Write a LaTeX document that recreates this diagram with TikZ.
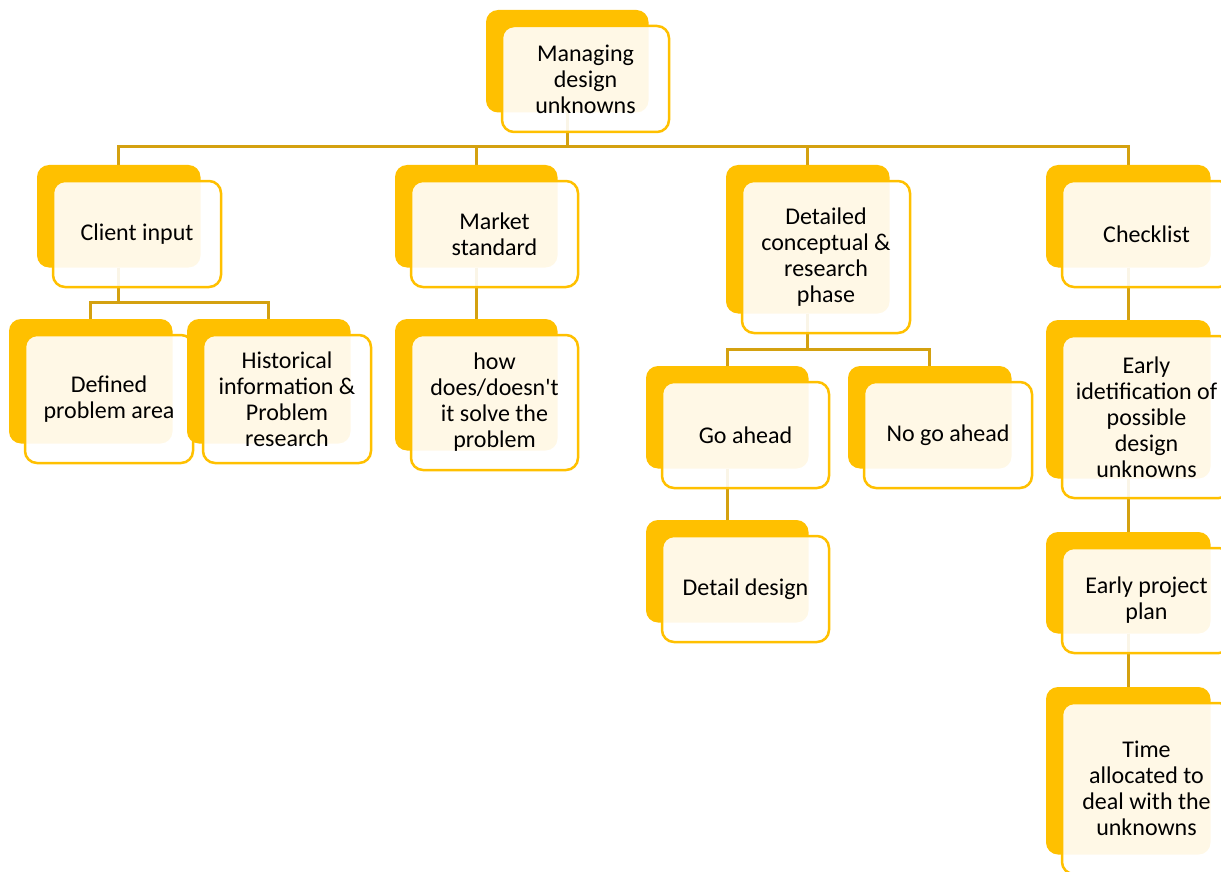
\documentclass[tikz,border=0pt]{standalone}
\usepackage{fontspec}
\newfontfamily\boxfont{Carlito}
\usetikzlibrary{backgrounds}
\definecolor{gold}{RGB}{255,192,0}
\definecolor{linkgold}{RGB}{212,161,16}
\tikzset{
  backbox/.style={fill=gold, rounded corners=12pt, inner sep=0pt, outer sep=0pt},
  frontbox/.style={draw=gold, line width=2.5pt, fill=white, fill opacity=0.9,
    text opacity=1, rounded corners=12pt, inner sep=0pt, outer sep=0pt,
    align=center, font=\boxfont\fontsize{24}{26}\selectfont},
  link/.style={draw=linkgold, line width=3pt},
}
% #1 name, #2-#5 front box corners (left, top, right, bottom), #6 label.
% The solid back plate sits up and to the left of the outlined front card.
\newcommand\stackbox[6]{%
  \node[backbox, minimum width={#4-#2-4.5}, minimum height={#5-#3-3.5}]
    (#1b) at ({(#2+#4)/2-18.25},{(#3+#5)/2-17.75}) {};
  \node[frontbox, minimum width={#4-#2}, minimum height={#5-#3}]
    (#1) at ({(#2+#4)/2},{(#3+#5)/2}) {#6};
}
\begin{document}
\begin{tikzpicture}[x=1pt,y=-1pt]
\useasboundingbox (0,0) rectangle (1221,872);
\clip (0,0) rectangle (1221,872);

\stackbox{mg}{502}{26}{669}{132}{Managing\\design\\unknowns}
\stackbox{ci}{53}{181}{221}{287}{Client input}
\stackbox{mk}{411}{181}{578}{287}{Market\\standard}
\stackbox{dc}{742}{181}{910}{333}{Detailed\\conceptual \&\\research\\phase}
\stackbox{ck}{1062}{181}{1231}{287}{Checklist}
\stackbox{de}{25}{335}{193}{463}{Defined\\problem area}
\stackbox{hi}{203}{335}{371}{463}{Historical\\information \&\\Problem\\research}
\stackbox{hw}{411}{335}{578}{470}{how\\does/doesn't\\it solve the\\problem}
\stackbox{ga}{662}{382}{829}{488}{Go ahead}
\stackbox{ng}{864}{382}{1032}{488}{No go ahead}
\stackbox{dd}{662}{536}{829}{642}{Detail design}
\stackbox{ei}{1062}{336}{1231}{498}{Early\\idetification of\\possible\\design\\unknowns}
\stackbox{ep}{1062}{548}{1231}{653}{Early project\\plan}
\stackbox{ta}{1062}{703}{1231}{874}{Time\\allocated to\\deal with the\\unknowns}

\begin{scope}[on background layer]
  % top level bus
  \coordinate (busA) at (mgb.south |- 0,147);
  \draw[link] (mgb.south) -- (busA);
  \draw[link] (cib.north) |- (busA) -| (ckb.north);
  \draw[link] (mkb.north) -- (mkb.north |- busA);
  \draw[link] (dcb.north) -- (dcb.north |- busA);
  % client input branch
  \coordinate (busB) at (cib.south |- 0,302);
  \draw[link] (cib.south) -- (busB);
  \draw[link] (deb.north) |- (busB) -| (hib.north);
  % market branch
  \draw[link] (mkb.south) -- (hwb.north);
  % research phase branch
  \coordinate (busC) at (dcb.south |- 0,349);
  \draw[link] (dcb.south) -- (busC);
  \draw[link] (gab.north) |- (busC) -| (ngb.north);
  \draw[link] (gab.south) -- (ddb.north);
  % checklist chain
  \draw[link] (ckb.south) -- (eib.north);
  \draw[link] (eib.south) -- (epb.north);
  \draw[link] (epb.south) -- (tab.north);
\end{scope}
\end{tikzpicture}
\end{document}
